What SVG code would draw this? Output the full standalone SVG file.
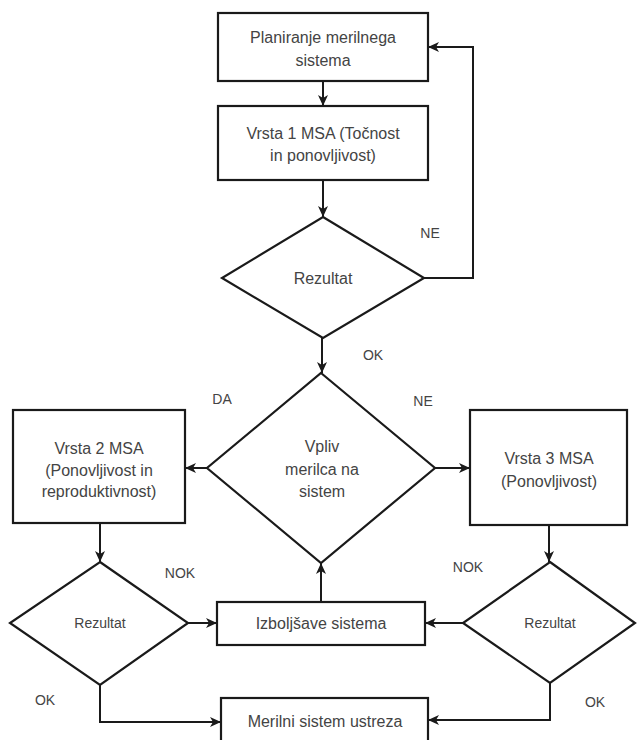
<svg xmlns="http://www.w3.org/2000/svg" width="637" height="740" viewBox="0 0 637 740">
<defs>
<marker id="arr" markerUnits="userSpaceOnUse" markerWidth="12" markerHeight="10" refX="11" refY="5" orient="auto">
<path d="M0,0 L11,5 L0,10 L3,5 z" fill="#1a1a1a"/>
</marker>
<style>
.box{fill:#fff;stroke:#1a1a1a;stroke-width:2.2}
.ln{fill:none;stroke:#1a1a1a;stroke-width:2;marker-end:url(#arr)}
text{font-family:"Liberation Sans",Arial,sans-serif;fill:#444;text-anchor:middle}
.t{font-size:16px}
.s{font-size:14px}
.l{font-size:14px}
</style>
</defs>
<rect width="637" height="740" fill="#fff"/>
<g id="connectors">
<path class="ln" d="M323,81 V106"/>
<path class="ln" d="M323,180 V217"/>
<path class="ln" d="M424,278 H473 V47 H428"/>
<path class="ln" d="M322,338 V373"/>
<path class="ln" d="M207,468 H185"/>
<path class="ln" d="M435,468 H470"/>
<path class="ln" d="M100,523 V562"/>
<path class="ln" d="M549,525 V562"/>
<path class="ln" d="M188,623 H217"/>
<path class="ln" d="M463,623 H425"/>
<path class="ln" d="M321,602 V563"/>
<path class="ln" d="M100,685 V722 H221"/>
<path class="ln" d="M550,683 V720 H428"/>
</g>
<g id="labels">
<text class="l" x="430" y="238">NE</text>
<text class="l" x="373" y="360">OK</text>
<text class="l" x="222" y="404">DA</text>
<text class="l" x="423" y="406">NE</text>
<text class="l" x="180" y="578">NOK</text>
<text class="l" x="468" y="572">NOK</text>
<text class="l" x="45" y="705">OK</text>
<text class="l" x="595" y="707">OK</text>
</g>
<g id="planiranje">
<rect class="box" x="218" y="13" width="210" height="68"/>
<text class="t" x="323" y="43">Planiranje merilnega</text>
<text class="t" x="323" y="66">sistema</text>
</g>
<g id="vrsta1">
<rect class="box" x="218" y="106" width="210" height="74"/>
<text class="t" x="323" y="139">Vrsta 1 MSA (Točnost</text>
<text class="t" x="323" y="161">in ponovljivost)</text>
</g>
<g id="rezultat1">
<polygon class="box" points="323,217 424,278 323,338 222,278"/>
<text class="t" x="323" y="284">Rezultat</text>
</g>
<g id="vpliv">
<polygon class="box" points="321,373 435,468 321,563 207,468"/>
<text class="t" x="322" y="452">Vpliv</text>
<text class="t" x="322" y="475">merilca na</text>
<text class="t" x="322" y="497">sistem</text>
</g>
<g id="vrsta2">
<rect class="box" x="13" y="410" width="172" height="113"/>
<text class="t" x="99" y="454">Vrsta 2 MSA</text>
<text class="t" x="99" y="476">(Ponovljivost in</text>
<text class="t" x="99" y="497">reproduktivnost)</text>
</g>
<g id="vrsta3">
<rect class="box" x="470" y="410" width="157" height="115"/>
<text class="t" x="549" y="464">Vrsta 3 MSA</text>
<text class="t" x="549" y="487">(Ponovljivost)</text>
</g>
<g id="rezultat2">
<polygon class="box" points="100,562 188,623 100,685 10,623"/>
<text class="s" x="100" y="628">Rezultat</text>
</g>
<g id="rezultat3">
<polygon class="box" points="550,562 635,623 550,683 463,623"/>
<text class="s" x="550" y="628">Rezultat</text>
</g>
<g id="izboljsave">
<rect class="box" x="217" y="602" width="208" height="43"/>
<text class="t" x="321" y="629">Izboljšave sistema</text>
</g>
<g id="merilni">
<rect class="box" x="221" y="698" width="207" height="52"/>
<text class="t" x="325" y="727">Merilni sistem ustreza</text>
</g>
</svg>
